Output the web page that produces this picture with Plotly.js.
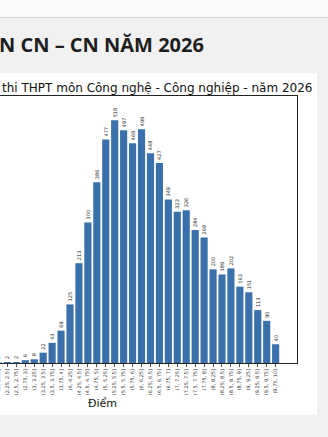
<!DOCTYPE html>
<html>
<head>
<meta charset="utf-8">
<script src="https://cdn.plot.ly/plotly-3.0.1.min.js"></script>
<style>
  html, body { margin: 0; padding: 0; width: 328px; height: 437px; overflow: hidden; background: #f1f1f1; position: relative; }
  #topbar { position: absolute; left: 0; top: 0; width: 328px; height: 17px; background: #fafafb; border-bottom: 1px solid #d4d4d4; }
  #heading { position: absolute; left: -1px; top: 35px; font-family: "Open Sans", "Noto Sans", sans-serif; font-weight: 700; font-size: 20px; line-height: 20px; color: #1e1e1e; white-space: nowrap; }
  #card { position: absolute; left: 0; top: 73px; width: 317px; height: 342px; background: #ffffff; }
  #chart { position: absolute; left: -110px; top: 73px; width: 427px; height: 342px; }
</style>
</head>
<body>
<div id="topbar"></div>
<div id="heading">N CN – CN NĂM 2026</div>
<div id="card"></div>
<div id="chart"></div>
<script>
// Visible score bins and counts
const categories = [
  "(2, 2.25]", "(2.25, 2.5]", "(2.5, 2.75]", "(2.75, 3]", "(3, 3.25]", "(3.25, 3.5]",
  "(3.5, 3.75]", "(3.75, 4]", "(4, 4.25]", "(4.25, 4.5]", "(4.5, 4.75]", "(4.75, 5]",
  "(5, 5.25]", "(5.25, 5.5]", "(5.5, 5.75]", "(5.75, 6]", "(6, 6.25]", "(6.25, 6.5]",
  "(6.5, 6.75]", "(6.75, 7]", "(7, 7.25]", "(7.25, 7.5]", "(7.5, 7.75]", "(7.75, 8]",
  "(8, 8.25]", "(8.25, 8.5]", "(8.5, 8.75]", "(8.75, 9]", "(9, 9.25]", "(9.25, 9.5]",
  "(9.5, 9.75]", "(9.75, 10]"
];
const counts = [
  1, 2, 2, 6, 8, 22,
  43, 69, 125, 213, 300, 386,
  477, 518, 497, 469, 499, 448,
  427, 349, 323, 326, 284, 268,
  200, 189, 202, 163, 151, 113,
  90, 40
];
const chartTitle = "thi THPT môn Công nghệ - Công nghiệp - năm 2026";
const xTitle = "Điểm";

const trace = {
  type: "bar",
  x: categories,
  y: counts,
  text: counts.map(String),
  textposition: "outside",
  textangle: -90,
  constraintext: "none",
  cliponaxis: false,
  textfont: { family: "DejaVu Sans", size: 5, color: "#222" },
  marker: { color: "#3a70ac", line: { width: 0 } },
  hoverinfo: "x+y"
};

const layout = {
  width: 427,
  height: 342,
  margin: { l: 17, r: 20.3, t: 23, b: 52, pad: 0 },
  paper_bgcolor: "rgba(0,0,0,0)",
  plot_bgcolor: "#ffffff",
  bargap: 0.2,
  showlegend: false,
  font: { family: "DejaVu Sans", color: "#222" },
  title: {
    text: chartTitle,
    font: { family: "DejaVu Sans", size: 12, color: "#111" },
    x: 112 / 427, xanchor: "left", xref: "container",
    y: 1 - 15 / 342, yanchor: "middle", yref: "container"
  },
  xaxis: {
    type: "category",
    categoryorder: "array",
    categoryarray: categories,
    range: [-10.23, 33.39],
    showline: true, mirror: true, linecolor: "#222", linewidth: 1,
    ticks: "outside", ticklen: 3, tickwidth: 0.8, tickcolor: "#222",
    tickangle: -90,
    tickfont: { family: "DejaVu Sans", size: 5, color: "#333" },
    showgrid: false, zeroline: false, automargin: false,
    fixedrange: true
  },
  yaxis: {
    range: [0, 570],
    showline: true, mirror: true, linecolor: "#222", linewidth: 1,
    showticklabels: false, ticks: "",
    showgrid: false, zeroline: false, automargin: false,
    fixedrange: true
  },
  annotations: [{
    text: xTitle,
    xref: "paper", yref: "paper",
    x: 0.5, y: -40 / 267,
    xanchor: "center", yanchor: "middle",
    showarrow: false,
    font: { family: "DejaVu Sans", size: 11, color: "#111" }
  }]
};

Plotly.newPlot("chart", [trace], layout, { displayModeBar: false, staticPlot: true });
</script>
</body>
</html>
